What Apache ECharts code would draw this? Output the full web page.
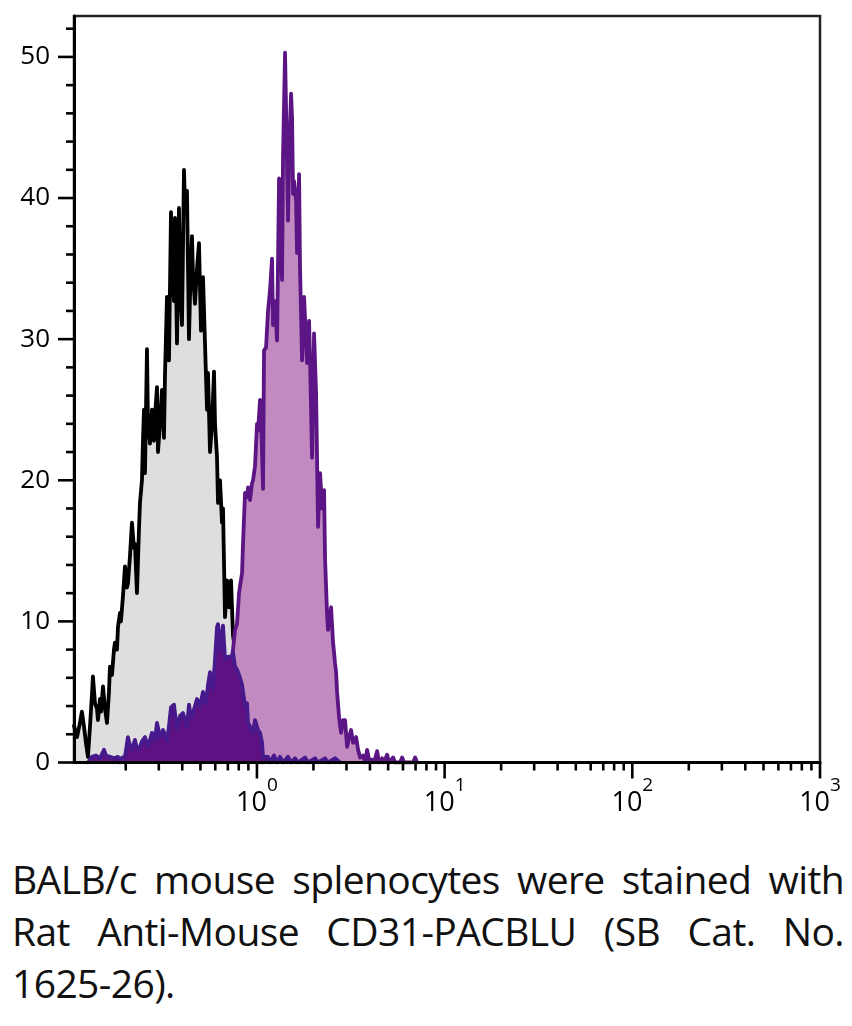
<!DOCTYPE html>
<html lang="en">
<head>
    <meta charset="UTF-8">
    <title>CD31-PACBLU histogram</title>
    <script src="https://cdn.jsdelivr.net/npm/echarts@6/dist/echarts.min.js"></script>
    <style>
        body { margin: 0; background: #fff; }
        #hist { position: absolute; left: 0; top: 0; width: 852px; height: 840px; }
        #caption {
            position: absolute; left: 12px; top: 853px; width: 832px;
            font-family: "Open Sans", "Noto Sans", sans-serif;
            font-size: 39px; letter-spacing: -0.6px; line-height: 52px; color: #111;
        }
        #caption .jl { text-align: justify; text-align-last: justify; white-space: nowrap; }
    </style>
</head>
<body>
<div id="hist"></div>
<div id="caption">
    <div class="jl">BALB/c mouse splenocytes were stained with</div>
    <div class="jl">Rat Anti-Mouse CD31-PACBLU (SB Cat. No.</div>
    <div>1625-26).</div>
</div>
<script>
// isotype control (gray, black outline) : [intensity, count]
var isotype = [[0.1060,2.6],[0.1100,1.8],[0.1140,2.8],[0.1168,3.6],[0.1197,2.6],[0.1227,1.4],[0.1258,0.4],[0.1289,2.5],
    [0.1321,4.8],[0.1337,6.1],[0.1371,4.2],[0.1405,3.8],[0.1422,3.0],[0.1458,4.5],[0.1476,3.6],[0.1513,5.4],[0.1550,3.8],
    [0.1589,2.8],[0.1628,5.0],[0.1648,6.8],[0.1689,6.2],[0.1731,8.0],[0.1752,8.5],[0.1796,8.0],[0.1818,9.6],[0.1863,10.6],
    [0.1886,10.0],[0.1933,11.8],[0.1981,13.9],[0.2030,12.4],[0.2055,12.7],[0.2106,14.6],[0.2158,17.0],[0.2212,15.2],
    [0.2239,15.5],[0.2295,12.0],[0.2352,16.5],[0.2381,18.4],[0.2440,20.0],[0.2470,22.8],[0.2501,25.0],[0.2532,20.5],
    [0.2595,29.3],[0.2627,24.0],[0.2692,22.6],[0.2759,25.0],[0.2827,22.8],[0.2862,24.5],[0.2934,26.6],[0.2970,22.0],
    [0.3044,24.0],[0.3120,26.4],[0.3197,23.0],[0.3237,27.5],[0.3317,33.0],[0.3400,28.5],[0.3484,39.0],[0.3527,35.0],
    [0.3614,32.7],[0.3659,38.6],[0.3750,29.7],[0.3843,39.3],[0.3890,34.0],[0.3987,31.0],[0.4086,42.0],[0.4136,39.5],
    [0.4239,40.5],[0.4345,30.0],[0.4398,33.0],[0.4508,37.3],[0.4563,34.5],[0.4676,32.5],[0.4793,35.0],[0.4912,36.8],
    [0.5035,30.6],[0.5159,34.4],[0.5288,29.7],[0.5420,25.0],[0.5486,27.6],[0.5623,22.0],[0.5763,24.0],[0.5906,27.7],
    [0.5979,24.0],[0.6128,21.6],[0.6203,18.4],[0.6357,20.0],[0.6515,17.0],[0.6595,18.0],[0.6759,10.3],[0.6928,12.9],
    [0.7100,11.0],[0.7276,12.9],[0.7457,9.0],[0.7642,8.0],[0.7929,6.5],[0.8227,5.0],[0.8535,3.5],[0.8856,2.5],
    [0.9187,1.5],[0.9649,0.8],[1.0135,0.3],[1.0646,0]];

// CD31-PACBLU stained (light purple)
var stained = [[0.5906,0],[0.6357,1.5],[0.6759,3.5],[0.7100,5.5],[0.7457,8.0],[0.7642,9.4],[0.7832,9.8],[0.8027,12.0],
    [0.8126,12.5],[0.8328,13.4],[0.8431,15.5],[0.8640,19.1],[0.8856,18.8],[0.8965,19.5],[0.9187,18.6],[0.9416,19.8],
    [0.9532,20.0],[0.9769,21.0],[1.001,24.0],[1.0135,23.5],[1.039,25.7],[1.0516,24.5],[1.0777,19.4],[1.0910,29.2],
    [1.1182,29.4],[1.1459,32.0],[1.1744,33.5],[1.2036,35.7],[1.2184,31.0],[1.2487,32.7],[1.2799,29.9],[1.3117,41.4],
    [1.3277,38.0],[1.3608,34.2],[1.3775,43.0],[1.4117,50.3],[1.4469,42.4],[1.4647,38.4],[1.4829,43.0],[1.5197,47.4],
    [1.5385,45.7],[1.5574,40.3],[1.5766,41.2],[1.6159,39.8],[1.6359,36.1],[1.6766,41.7],[1.6971,35.0],[1.7394,28.5],
    [1.7825,33.0],[1.8495,28.3],[1.8955,31.3],[1.9188,28.5],[1.9666,21.6],[2.0153,30.4],[2.0656,26.2],[2.1168,16.7],
    [2.1694,20.5],[2.2234,18.0],[2.2785,19.3],[2.3067,14.4],[2.3642,10.5],[2.3933,9.4],[2.4831,11.0],[2.5447,8.5],
    [2.6080,7.0],[2.6403,6.4],[2.6730,5.0],[2.7394,3.2],[2.8075,2.1],[2.8771,3.0],[2.9486,3.0],[3.0221,1.1],[3.0973,1.8],
    [3.1741,2.3],[3.2528,1.4],[3.3750,1.8],[3.4588,0.9],[3.5447,0.35],[3.6776,0.5],[3.7691,0],[3.8630,0.9],[3.9591,0.2],
    [4.1074,0.2],[4.2092,0],[4.3675,0.8],[4.4761,0],[4.6438,0.3],[4.7589,0],[4.9379,0.55],[5.0607,0],[5.3149,0.35],
    [5.4471,0],[5.7918,0],[5.9360,0.35],[6.0831,0],[6.7938,0],[6.9627,0.35],[7.1362,0]];

// low population (dark purple)
var lowPop = [[0.1258,0],[0.1321,0.4],[0.1388,0.5],[0.1458,0.3],[0.1531,0.9],[0.1570,0.5],[0.1648,0.4],[0.1731,0.3],
    [0.1818,0.4],[0.1863,0],[0.1909,0.35],[0.1981,0.4],[0.2055,1.8],[0.2106,1.2],[0.2158,0.9],[0.2239,1.6],[0.2295,1.0],
    [0.2381,1.1],[0.2440,1.5],[0.2532,1.8],[0.2627,1.1],[0.2692,1.6],[0.2759,2.1],[0.2862,1.6],[0.2934,2.8],[0.3044,1.8],
    [0.3158,2.3],[0.3237,2.0],[0.3317,1.5],[0.3400,2.6],[0.3484,3.9],[0.3614,4.1],[0.3750,2.3],[0.3890,3.3],[0.4036,3.5],
    [0.4239,2.5],[0.4345,4.1],[0.4453,3.2],[0.4563,3.5],[0.4676,4.0],[0.4793,4.5],[0.4973,4.0],[0.5159,5.0],[0.5353,4.2],
    [0.5486,5.5],[0.5623,6.4],[0.5834,5.2],[0.5979,7.3],[0.6128,9.6],[0.6203,9.8],[0.6357,8.6],[0.6436,8.0],[0.6595,9.7],
    [0.6759,7.3],[0.7013,7.5],[0.7187,7.6],[0.7366,7.5],[0.7457,7.8],[0.7642,6.8],[0.7832,6.6],[0.7929,6.4],[0.8126,6.0],
    [0.8328,5.5],[0.8640,4.0],[0.8856,4.2],[0.8965,2.8],[0.9187,2.8],[0.9416,2.3],[0.9532,2.1],[0.9769,3.0],[1.001,3.0],
    [1.0135,2.3],[1.039,2.1],[1.0646,1.4],[1.0777,0.35],[1.1045,0.4],[1.1459,0.4],[1.1744,0],[1.2335,0.5],[1.2799,0],
    [1.3277,0.4],[1.3775,0],[1.4647,0.4],[1.5197,0],[1.5961,0.3],[1.6560,0],[1.8045,0.35],[1.8722,0],[2.0403,0.3],
    [2.1168,0],[2.3067,0.3],[2.3933,0],[2.6080,0.3],[2.7731,0]];

// axis ticks
var X_MIN = 0.106, X_MAX = 1000, Y_MAX = 52.9;
var xMajorTicks = [1, 10, 100, 1000];
var xMinorTicks = [0.2, 0.3, 0.4, 0.5, 0.6, 0.7, 0.8, 0.9, 2, 3, 4, 5, 6, 7, 8, 9,
    20, 30, 40, 50, 60, 70, 80, 90, 200, 300, 400, 500, 600, 700, 800, 900];
var yMajorTicks = [0, 10, 20, 30, 40, 50];
var yMinorTicks = [2, 4, 6, 8, 12, 14, 16, 18, 22, 24, 26, 28, 32, 34, 36, 38, 42, 44, 46, 48, 52];

var FONT = '"Open Sans", "Noto Sans", sans-serif';

// each histogram gets its own z so that a later fill hides an earlier outline
function histSeries(name, data, fill, stroke, z) {
    return {
        name: name, type: 'line', data: data, z: z,
        showSymbol: false, symbol: 'none', animation: false,
        lineStyle: { color: stroke, width: 3.8, join: 'round', cap: 'round' },
        areaStyle: { color: fill, opacity: 1, origin: 'start' }
    };
}

// short tick lines, positioned through the axes
function tickSeries(items) {
    return {
        type: 'custom', silent: true, clip: false, animation: false, z: 12,
        data: items,
        renderItem: function (params, api) {
            var p = api.coord([api.value(0), api.value(1)]);
            return {
                type: 'line',
                shape: { x1: p[0], y1: p[1], x2: p[0] + api.value(2), y2: p[1] + api.value(3) },
                style: { stroke: '#000', lineWidth: 2.6 }
            };
        }
    };
}

var tickItems = [];
xMajorTicks.forEach(function (v) { tickItems.push([v, 0, 0, 16]); });
xMinorTicks.forEach(function (v) { tickItems.push([v, 0, 0, 8]); });
yMajorTicks.forEach(function (v) { tickItems.push([X_MIN, v, -16, 0]); });
yMinorTicks.forEach(function (v) { tickItems.push([X_MIN, v, -8, 0]); });

var myChart = echarts.init(document.getElementById('hist'));
myChart.setOption({
    animation: false,
    grid: { left: 74, right: 32, top: 16, bottom: 77.5, show: true, borderColor: '#222', borderWidth: 2.5 },
    xAxis: {
        type: 'log', logBase: 10, min: X_MIN, max: X_MAX, z: 10,
        axisLine: { lineStyle: { color: '#000', width: 3 } },
        axisTick: { show: false },
        splitLine: { show: false },
        axisLabel: {
            margin: 14, color: '#000',
            formatter: function (v) {
                var e = Math.log10(v);
                if (Math.abs(e - Math.round(e)) > 0.01 || e < -0.01) return '';
                return '{b|10}{s|' + Math.round(e) + '}';
            },
            rich: {
                b: { fontFamily: FONT, fontSize: 27, lineHeight: 40, verticalAlign: 'bottom', color: '#000' },
                s: { fontFamily: FONT, fontSize: 19, lineHeight: 14, verticalAlign: 'top', color: '#000' }
            }
        }
    },
    yAxis: {
        type: 'value', min: 0, max: Y_MAX, interval: 10, z: 10,
        axisLine: { show: true, lineStyle: { color: '#000', width: 3 } },
        axisTick: { show: false },
        splitLine: { show: false },
        axisLabel: {
            margin: 24, color: '#000', fontFamily: FONT, fontSize: 26,
            formatter: function (v) { return v % 10 === 0 ? String(v) : ''; }
        }
    },
    series: [
        histSeries('Isotype', isotype, '#dedede', '#000000', 2),
        histSeries('CD31-PACBLU', stained, '#c18ac1', '#5b1584', 3),
        histSeries('Low', lowPop, '#5d1182', '#461a8c', 4),
        tickSeries(tickItems)
    ]
});
</script>
</body>
</html>
